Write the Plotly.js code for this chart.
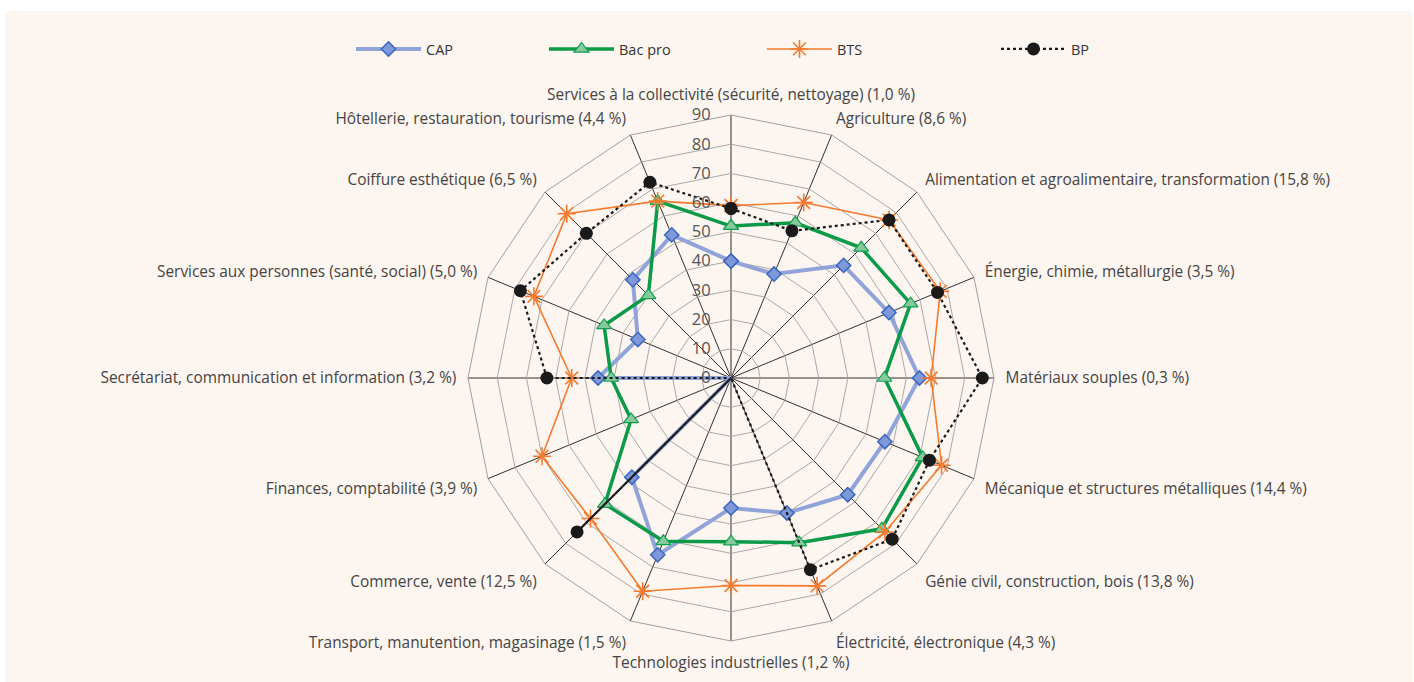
<!DOCTYPE html>
<html>
<head>
<meta charset="utf-8">
<script src="https://cdn.plot.ly/plotly-3.0.1.min.js"></script>
<style>
html,body{margin:0;padding:0;background:#ffffff;}
#chart{position:absolute;left:5px;top:11px;width:1407px;height:671px;}
</style>
</head>
<body>
<div id="chart"></div>
<script>
const categories = [
  "Services à la collectivité (sécurité, nettoyage) (1,0 %)",
  "Agriculture (8,6 %)",
  "Alimentation et agroalimentaire, transformation (15,8 %)",
  "Énergie, chimie, métallurgie (3,5 %)",
  "Matériaux souples (0,3 %)",
  "Mécanique et structures métalliques (14,4 %)",
  "Génie civil, construction, bois (13,8 %)",
  "Électricité, électronique (4,3 %)",
  "Technologies industrielles (1,2 %)",
  "Transport, manutention, magasinage (1,5 %)",
  "Commerce, vente (12,5 %)",
  "Finances, comptabilité (3,9 %)",
  "Secrétariat, communication et information (3,2 %)",
  "Services aux personnes (santé, social) (5,0 %)",
  "Coiffure esthétique (6,5 %)",
  "Hôtellerie, restauration, tourisme (4,4 %)"
];
const cap    = [40, 38.5, 54.5, 58.5, 64.5, 57, 56.5, 50, 44.5, 65.5, 48, 0, 45.5, 34.5, 47.5, 53];
const bacPro = [52, 57.5, 63, 66.5, 52.5, 71, 73, 61, 56, 60.5, 61, 37, 41, 47, 40, 65.5];
const bts    = [59, 65, 76.5, 77.5, 68.5, 78, 74.5, 77, 71, 79, 68, 70, 54.5, 73, 79.5, 65.5];
const bp     = [58, 54.5, 76.5, 76.5, 86, 73.5, 78, 71, 0, 0, 74.5, 0, 63, 78, 70, 72.5];
const radialTicks = [0, 10, 20, 30, 40, 50, 60, 70, 80, 90];

function closeLoop(a){ return a.concat([a[0]]); }
const th = closeLoop(categories);

const traces = [
  {type:'scatterpolar', name:'CAP', r:closeLoop(cap), theta:th, mode:'lines+markers',
   line:{color:'#91a4d9', width:4},
   marker:{symbol:'diamond', size:11, color:'#7f98d8', line:{color:'#3a66c2', width:1.5}},
   legend:'legend', cliponaxis:false},
  {type:'scatterpolar', name:'Bac pro', r:closeLoop(bacPro), theta:th, mode:'lines+markers',
   line:{color:'#0b9a48', width:3.5},
   marker:{symbol:'triangle-up', size:13, color:'#86c99c', line:{color:'#12a050', width:1.2}},
   legend:'legend2', cliponaxis:false},
  {type:'scatterpolar', name:'BTS', r:closeLoop(bts), theta:th, mode:'lines+markers',
   line:{color:'#f47a2e', width:1.6},
   marker:{symbol:'asterisk-open', size:15, color:'#f47a2e', line:{color:'#f47a2e', width:1.6}},
   legend:'legend3', cliponaxis:false},
  {type:'scatterpolar', name:'BP', r:closeLoop(bp), theta:th, mode:'lines+markers',
   line:{color:'#1a1a1a', width:2.2, dash:'dot'},
   marker:{symbol:'circle', size:13, color:'#1a1a1a'},
   legend:'legend4', cliponaxis:false}
];

const legBase = {orientation:'h', xref:'container', yref:'container', yanchor:'middle',
  xanchor:'left', y:1-38/671, bgcolor:'rgba(0,0,0,0)', itemwidth:65,
  font:{family:'Open Sans, sans-serif', size:14.5, color:'#333'}};

const layout = {
  width:1407, height:671,
  paper_bgcolor:'#fdf5ef', plot_bgcolor:'#fdf5ef',
  margin:{l:463, r:418, t:104, b:41},
  showlegend:true,
  font:{family:'Open Sans, sans-serif', color:'#444'},
  legend:Object.assign({}, legBase, {x:(351-5)/1407}),
  legend2:Object.assign({}, legBase, {x:(544-5)/1407}),
  legend3:Object.assign({}, legBase, {x:(762-5)/1407}),
  legend4:Object.assign({}, legBase, {x:(996-5)/1407}),
  polar:{
    bgcolor:'#fdf5ef',
    gridshape:'linear',
    domain:{x:[0,1], y:[0,1]},
    angularaxis:{
      rotation:90, direction:'clockwise', type:'category',
      showgrid:true, gridcolor:'#1a1a1a', gridwidth:0.9,
      showline:true, linecolor:'#a0a0a0', linewidth:1,
      ticks:'outside', ticklen:8, tickcolor:'rgba(0,0,0,0)',
      tickfont:{family:'Open Sans, sans-serif', size:15.4, color:'#444'}
    },
    radialaxis:{
      range:[0,90], tickvals:radialTicks, ticktext:radialTicks.map(String),
      angle:90, side:'counterclockwise', tickangle:90,
      showline:false, ticks:'outside', ticklen:14, tickcolor:'rgba(0,0,0,0)',
      showgrid:true, gridcolor:'#a0a0a0', gridwidth:0.9,
      tickfont:{family:'Open Sans, sans-serif', size:16.5, color:'#555'}
    }
  }
};

Plotly.newPlot('chart', traces, layout, {displayModeBar:false, staticPlot:true});
</script>
</body>
</html>
